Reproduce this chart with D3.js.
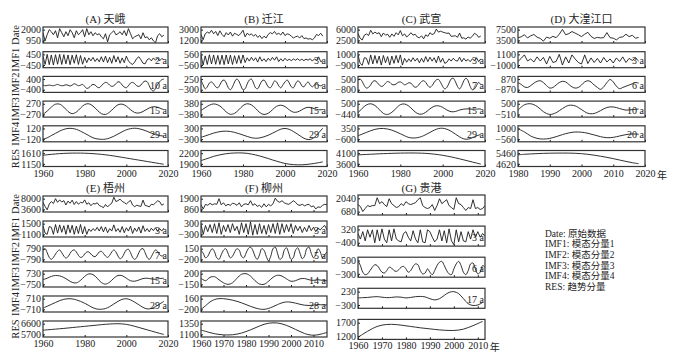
<!DOCTYPE html>
<html>
<head>
<meta charset="utf-8">
<script src="https://cdn.jsdelivr.net/npm/d3@7"></script>
<style>
  body { margin: 0; background: #fff; }
</style>
</head>
<body>
<script>
// ---- data ----
// (A) 天峨 1960-2018
var aDate = [1700,900,1500,2000,1800,1500,1900,1200,2100,1700,1300,1800,1400,2000,1700,1200,1900,1500,1700,2000,1300,2100,1500,1800,1400,1700,1500,1600,1300,1100,1600,800,1500,1700,1900,1500,1600,1800,1500,1900,1400,2100,1600,1100,1300,1400,1500,1100,1700,1200,1300,1000,1200,900,700,1400,1600,1300,1450];
var aImf1 = [300,-400,450,-420,400,-450,420,-380,450,-400,430,-350,400,-420,380,-300,420,-400,350,-380,200,-250,150,-100,200,-150,100,-180,250,-200,300,-250,200,-300,350,-200,250,-300,150,-250,300,-100,-300,-400,-200,100,250,0,-300,-350,0,100,-100,150,-50,150,-100,100,0];
var aImf2 = [-50,-100,-80,-50,-80,-100,-50,0,-60,-100,-80,-30,-60,-120,-50,50,-20,-100,-60,0,-150,-300,-250,-100,0,-50,-200,-250,-100,50,150,100,-50,-150,-100,50,200,150,-50,-200,-250,-100,100,150,50,-100,-150,-50,150,250,200,-100,-400,-500,-300,0,200,350,400];
var aImf3 = [-270,-100,100,250,250,100,-120,-230,-150,50,230,270,150,-50,-230,-270,-150,50,220,250,150,-30,-170,-200,-120,0,100,120,50,-30];
var aImf4 = [-120,-90,-40,10,60,100,120,120,100,60,10,-40,-90,-115,-125,-120,-95,-55,-5,45,90,115,125,115,90,55,15,-20,-40,-50];
var aRes = [1520,1540,1560,1575,1590,1600,1608,1612,1614,1612,1608,1600,1590,1575,1560,1540,1515,1490,1460,1430,1400,1370,1340,1310,1280,1250,1220,1190,1160,1130];
var aTicks = [[2000,950],[450,-450],[400,-400],[270,-270],[120,-120],[1610,1150]];
var aPeriods = [null,"2 a","10 a","15 a","29 a",null];

// (B) 迁江 1960-2018
var bDate = [2200,1300,2300,2600,2400,2900,2300,2700,2000,2800,2200,1800,2500,2100,2600,1900,2400,2200,2000,2400,2900,1800,2400,2100,2300,1900,2200,1700,2000,1500,1900,1600,2200,2500,2300,2700,2200,2400,2100,2600,2000,2300,2200,1900,1600,1800,1900,1600,2000,1500,1600,1400,1500,1300,1600,2200,2000,2400,1900];
var bImf1 = [500,-560,400,-500,520,-450,500,-480,450,-500,480,-520,500,-450,480,-500,420,-400,450,-380,500,-300,200,-150,250,-100,200,-250,300,-150,100,-200,150,-100,250,-50,300,-200,100,-150,150,-100,50,-100,80,-50,100,-80,50,-100,60,-50,100,-150,80,-60,300,-200,-100];
var bImf2 = [200,-50,-250,-150,50,100,0,-150,-200,-50,150,200,50,-200,-300,-150,100,250,150,-100,-300,-250,0,200,250,50,-200,-250,-50,150,200,50,-150,-200,-50,150,100,-100,-200,-50,100,200,50,-150,-200,0,150,100,-100,-150,0,100,-50,-150,-50,50,-50,-100,-50];
var bImf3 = [-100,100,280,370,300,100,-200,-370,-300,-50,250,380,300,50,-250,-380,-300,-50,200,280,180,-50,-220,-200,-50,100,120,30,-50,-30];
var bImf4 = [-200,-120,-40,40,100,140,150,130,80,10,-70,-150,-220,-250,-230,-170,-80,30,150,260,300,250,130,-20,-180,-300,-320,-200,50,320];
var bRes = [1990,2030,2070,2110,2140,2165,2185,2198,2205,2208,2205,2195,2175,2150,2120,2085,2050,2010,1975,1940,1910,1890,1878,1872,1873,1880,1895,1912,1932,1955];
var bTicks = [[3000,1200],[560,-560],[250,-300],[380,-380],[300,-300],[2200,1900]];
var bPeriods = [null,"3 a","6 a","15 a","29 a",null];

// (C) 武宣 1960-2018
var cDate = [4800,3200,2600,4200,4600,4100,5800,4600,5200,4700,5000,3700,4900,4200,4500,3500,4600,3800,5000,4300,5700,4000,4600,3600,4200,5000,4200,4500,3600,3300,4000,3000,4300,3800,5000,4400,4700,6200,5200,5500,5200,5000,4800,4900,3800,3900,4000,3500,4900,3200,3300,2900,3600,3200,3800,4800,4400,3500,3900];
var cImf1 = [900,-600,-950,400,300,-800,900,-700,800,-600,700,-900,800,-500,600,-900,700,-600,800,-500,900,-900,300,-400,200,-300,400,-200,300,-500,300,-400,600,-300,500,-200,400,-500,700,-400,300,-600,-400,200,-200,300,-100,-200,500,-300,300,-200,100,-300,200,-100,400,-300,200];
var cImf2 = [400,500,200,-300,-600,-500,-200,200,300,100,-200,-400,-300,0,200,100,-150,-200,-100,100,150,0,-200,-100,50,0,-300,-500,-400,-100,200,300,100,-300,-500,-300,100,400,450,100,-400,-700,-500,0,500,600,200,-400,-700,-300,300,600,300,-400,-800,-700,-300,100,-200];
var cImf3 = [-300,100,400,500,350,0,-350,-440,-250,100,420,480,300,-50,-350,-420,-250,50,280,320,180,-50,-200,-180,-50,30,50,20,30,50];
var cImf4 = [-300,-150,0,150,270,340,350,300,200,50,-120,-300,-450,-500,-470,-370,-200,0,200,340,370,280,100,-150,-400,-580,-600,-480,-300,-200];
var cRes = [4020,4030,4040,4050,4060,4070,4078,4085,4092,4098,4103,4106,4108,4108,4105,4100,4090,4075,4055,4030,4000,3965,3925,3880,3835,3785,3735,3685,3635,3590];
var cTicks = [[6000,2500],[1000,-900],[500,-800],[500,-440],[350,-600],[4100,3600]];
var cPeriods = [null,"3 a","7 a","15 a","29 a",null];

// (D) 大湟江口 1980-2018
var dDate = [4500,4800,5600,4400,5200,5700,4700,4200,3200,4700,4300,5000,4500,5800,7600,5600,6000,6800,6200,5600,4900,5800,6500,5000,4200,4600,4400,4500,6400,4500,4300,3700,4600,4800,5800,4900,5400,4300,4600];
var dImf1 = [-300,300,1000,-200,200,-400,600,-200,500,-800,700,-500,-300,1100,-1000,600,-600,1000,200,-500,-800,1000,-700,400,-500,300,-600,500,-400,200,-600,400,-300,600,-500,300,-100,400,-200];
var dImf2 = [300,0,-400,-500,-200,200,500,600,300,-200,-600,-500,-100,300,500,400,0,-400,-600,-500,-100,400,600,400,-100,-500,-800,-400,300,800,400,-300,-700,-500,-300,-100,100,300,200];
var dImf3 = [-100,400,500,250,-250,-510,-350,50,350,300,-50,-400,-420,-150,150,200,50,-100,-50,0];
var dImf4 = [950,500,-100,-450,-550,-450,-200,100,350,480,450,300,50,-200,-350,-300,-100,100,200,150];
var dRes = [5330,5370,5400,5425,5445,5458,5465,5468,5465,5450,5420,5370,5300,5220,5130,5030,4920,4810,4710,4630];
var dTicks = [[7500,3500],[1100,-1000],[870,-870],[500,-510],[1000,-560],[5460,4620]];
var dPeriods = [null,"3 a","6 a","10 a","20 a",null];

// (E) 梧州 1960-2018
var eDate = [6500,4800,3400,5800,6800,6000,8000,6500,7500,6600,7200,5400,7000,6100,7400,5600,6800,5700,6500,6200,7500,5700,6300,5100,6000,5800,6300,5200,4800,4300,5600,4600,5500,6100,8600,6800,7200,7800,6900,6400,5800,6600,7300,5400,4700,5300,5000,4800,7400,5200,5000,4600,5700,5500,6300,7100,6800,5300,5800];
var eImf1 = [1000,-800,-1100,800,600,-1100,1300,-800,1200,-600,1000,-1100,1200,-700,1100,-1100,900,-900,1300,-1000,800,-1100,200,-400,300,-200,600,-300,800,-500,700,-700,300,-300,1200,-400,300,-600,800,-700,500,-300,900,-900,400,-400,700,-800,1000,-400,300,-500,400,-200,500,-400,300,-300,400];
var eImf2 = [500,800,200,-500,-790,-500,0,400,600,200,-300,-600,-400,100,500,600,300,-200,-500,-400,0,300,300,0,-300,-400,-100,300,400,100,-300,-500,-200,300,600,300,-300,-700,-500,100,600,700,200,-500,-800,-500,200,700,800,200,-500,-800,-400,200,600,400,-100,-300,-200];
var eImf3 = [-100,100,350,480,420,200,-150,-480,-550,-200,350,700,600,100,-500,-720,-450,100,480,450,100,-250,-320,-150,50,100,0,-50,50,100];
var eImf4 = [-550,-300,-50,200,450,620,700,680,550,350,100,-200,-500,-680,-700,-600,-350,0,350,620,700,550,250,-100,-450,-650,-600,-350,0,350];
var eRes = [6050,6080,6110,6140,6170,6200,6235,6270,6305,6340,6375,6410,6445,6480,6515,6545,6570,6590,6595,6580,6540,6470,6380,6280,6180,6080,5980,5880,5780,5690];
var eTicks = [[8000,3600],[1500,-1100],[790,-790],[730,-750],[710,-710],[6600,5700]];
var ePeriods = [null,"3 a","7 a","15 a","29 a",null];

// (F) 柳州 1960-2016
var fDate = [1300,900,1350,1250,1450,1300,1400,1350,1900,1300,1500,1200,1350,1250,1450,1400,1250,1500,1100,1350,1400,1300,1700,1250,1400,1150,1250,1050,1400,1100,1350,1200,1400,1950,1650,1550,1700,1500,1400,1350,1500,1700,1550,1300,1250,1350,1200,1300,1350,1100,1200,900,1100,1050,1250,1350,1300];
var fImf1 = [250,-300,200,-150,250,-200,300,-250,350,-300,200,-150,250,-200,300,-100,150,-300,350,-200,300,-300,400,-350,250,-300,300,-250,200,-300,250,-200,300,-250,350,-300,300,-200,250,-150,300,-250,200,-100,150,-200,100,-150,200,-100,100,-150,50,-50,100,200,-50];
var fImf2 = [100,0,-150,-100,50,150,50,-150,-200,-50,100,150,0,-150,-100,50,150,100,-100,-150,0,150,200,100,-100,-200,-50,150,100,-100,-250,-100,150,200,0,-200,-150,100,180,0,-200,-150,100,180,0,-180,-100,150,200,0,-150,-50,150,50,-150,-50,50];
var fImf3 = [50,-30,80,100,0,-100,-150,-100,50,180,200,120,-30,-140,-150,-50,80,150,120,30,-50,-30,30,40,0,-20,0,-20,-30];
var fImf4 = [-200,-80,50,130,160,160,140,110,70,20,-40,-100,-150,-190,-200,-170,-110,-40,20,50,40,10,-30,-60,-70,-60,-40,-50,-50];
var fRes = [1200,1170,1140,1115,1098,1088,1085,1090,1105,1130,1165,1205,1250,1295,1335,1360,1370,1365,1345,1310,1265,1215,1165,1120,1090,1080,1090,1115,1145];
var fTicks = [[1900,860],[300,-300],[150,-200],[200,-150],[160,-200],[1350,1100]];
var fPeriods = [null,"3 a","5 a","14 a","28 a",null];

// (G) 贵港 1960-2013 (no IMF4)
var gDate = [1400,1200,700,1000,1300,1200,1300,1300,2100,1500,1700,1400,1200,2000,1500,1300,1100,1200,1500,1300,1700,1500,1400,1500,1600,1900,2100,1300,1100,1000,1100,1400,800,1300,2000,1500,1700,1900,1300,1100,900,2100,1500,1400,1100,800,1100,1000,1900,1000,1100,900,1000,1300];
var gImf1 = [100,-200,200,-300,300,-100,300,-400,300,-300,350,-200,-400,300,-300,350,-200,-300,-350,100,200,-100,-300,250,-200,-400,300,-350,-400,300,200,-100,-350,-200,300,-300,250,-400,350,-300,-500,300,-350,200,-300,-350,200,-200,300,-100,200,-100,100,-50];
var gImf2 = [500,200,-200,-350,-300,-100,100,250,200,0,-200,-250,-100,100,50,-100,-150,-50,100,150,0,-200,-100,150,300,250,-100,-300,-250,0,-200,-350,-100,200,400,450,200,-100,-300,-350,0,300,450,200,-200,-350,-100,300,350,0,-300,-200,200,100];
var gImf3 = [-20,-10,0,20,30,10,-10,0,20,10,-20,0,30,40,20,-50,-100,-50,80,200,230,150,-50,-250,-320,-300,-200];
var gRes = [1150,1270,1380,1480,1560,1610,1635,1640,1630,1610,1585,1560,1535,1510,1490,1470,1450,1432,1418,1410,1410,1425,1460,1520,1590,1670,1750];
var gTicks = [[2040,680],[320,-400],[500,-300],[230,-300],[1700,1200]];
var gPeriods = [null,"3 a","6 a","17 a",null];

var rowNames6 = ["Date","IMF1","IMF2","IMF3","IMF4","RES"];
var legendItems = ["Date: 原始数据","IMF1: 模态分量1","IMF2: 模态分量2","IMF3: 模态分量3","IMF4: 模态分量4","RES: 趋势分量"];

// ---- panel table built from the arrays ----
var panels = [
  {title:"(A) 天峨", start:1960, domain:[1960,2020], xt:[1960,1980,2000,2020], series:[aDate,aImf1,aImf2,aImf3,aImf4,aRes], ticks:aTicks, periods:aPeriods},
  {title:"(B) 迁江", start:1960, domain:[1960,2020], xt:[1960,1980,2000,2020], series:[bDate,bImf1,bImf2,bImf3,bImf4,bRes], ticks:bTicks, periods:bPeriods},
  {title:"(C) 武宣", start:1960, domain:[1960,2020], xt:[1960,1980,2000,2020], series:[cDate,cImf1,cImf2,cImf3,cImf4,cRes], ticks:cTicks, periods:cPeriods},
  {title:"(D) 大湟江口", start:1980, domain:[1980,2020], xt:[1980,1990,2000,2010,2020], series:[dDate,dImf1,dImf2,dImf3,dImf4,dRes], ticks:dTicks, periods:dPeriods, unit:true},
  {title:"(E) 梧州", start:1960, domain:[1960,2020], xt:[1960,1980,2000,2020], series:[eDate,eImf1,eImf2,eImf3,eImf4,eRes], ticks:eTicks, periods:ePeriods},
  {title:"(F) 柳州", start:1960, domain:[1960,2016], xt:[1960,1970,1980,1990,2000,2010], series:[fDate,fImf1,fImf2,fImf3,fImf4,fRes], ticks:fTicks, periods:fPeriods},
  {title:"(G) 贵港", start:1960, domain:[1960,2013], xt:[1960,1970,1980,1990,2000,2010], series:[gDate,gImf1,gImf2,gImf3,gRes], ticks:gTicks, periods:gPeriods, unit:true}
];

// layout of each panel (px)
var layout = [
  {left:43,  width:125, top:27,  step:24.7, h:16, titleY:23,  rowLabels:true},
  {left:201, width:126, top:27,  step:24.7, h:16, titleY:23},
  {left:358, width:127, top:27,  step:24.7, h:16, titleY:23},
  {left:518, width:127, top:27,  step:24.7, h:16, titleY:23},
  {left:43,  width:125, top:196, step:25,   h:16, titleY:192, rowLabels:true},
  {left:201, width:126, top:196, step:25,   h:16, titleY:192},
  {left:358, width:127, top:195, step:31.1, h:20, titleY:192}
];

var fontFam = "'Liberation Serif','Times New Roman','Noto Sans CJK SC',serif";

var svg = d3.select("body")
    .append("svg")
    .attr("width", 674)
    .attr("height", 362)
    .style("font-family", fontFam);

var fmt = d3.format("d");

panels.forEach(function(p, pi) {
  var L = layout[pi];
  var x = d3.scaleLinear().domain(p.domain).range([L.left, L.left + L.width]);
  var n = p.series.length;

  // title
  svg.append("text")
      .attr("x", L.left + L.width / 2)
      .attr("y", L.titleY)
      .attr("text-anchor", "middle")
      .attr("font-size", 11)
      .attr("fill", "#222")
      .text(p.title);

  p.series.forEach(function(vals, ri) {
    var top = L.top + ri * L.step;
    var bot = top + L.h;
    var hi = p.ticks[ri][0], lo = p.ticks[ri][1];
    var pad = (hi - lo) * 0.25;
    var y = d3.scaleLinear().domain([lo - pad, hi + pad]).range([bot, top]);
    // first three rows yearly, smooth components every 2 years
    var step = ri < 3 ? 1 : 2;

    var clipId = "clip" + pi + "_" + ri;
    svg.append("clipPath").attr("id", clipId)
      .append("rect")
        .attr("x", L.left).attr("y", top)
        .attr("width", L.width).attr("height", L.h);

    var line = d3.line()
        .x(function(d, i) { return x(p.start + i * step); })
        .y(function(d) { return y(d); })
        .curve(ri < 2 ? d3.curveLinear : d3.curveCatmullRom);

    svg.append("path")
        .datum(vals)
        .attr("clip-path", "url(#" + clipId + ")")
        .attr("d", line)
        .style("fill", "none")
        .style("stroke", "#1a1a1a")
        .style("stroke-width", 0.9);

    // period annotation
    if (p.periods[ri]) {
      svg.append("text")
          .attr("x", L.left + L.width - 1)
          .attr("y", top + L.h / 2 + 4.5)
          .attr("text-anchor", "end")
          .attr("font-size", 10)
          .attr("fill", "#1a1a1a")
          .text(p.periods[ri]);
    }

    // y axis with two tick labels, ticks pointing inward
    var ay = svg.append("g")
        .attr("transform", "translate(" + L.left + ",0)")
        .call(d3.axisLeft(y).tickValues(p.ticks[ri]).tickSize(-2).tickPadding(2).tickFormat(fmt));
    ay.select(".domain").remove();
    ay.attr("font-family", null).attr("font-size", 10).style("color", "#1a1a1a");

    // x axis ticks on every box, labels only under the last row
    var last = ri === n - 1;
    var ax = svg.append("g")
        .attr("transform", "translate(0," + bot + ")")
        .call(d3.axisBottom(x).tickValues(p.xt).tickSize(-2).tickPadding(3)
              .tickFormat(last ? fmt : function() { return ""; }));
    ax.select(".domain").remove();
    ax.attr("font-family", null).attr("font-size", 10).style("color", "#1a1a1a");

    if (last && p.unit) {
      var lastTick = p.xt[p.xt.length - 1];
      svg.append("text")
          .attr("x", x(lastTick) + 12)
          .attr("y", bot + 12)
          .attr("font-size", 10)
          .attr("fill", "#1a1a1a")
          .text("年");
    }

    // frame
    svg.append("rect")
        .attr("x", L.left).attr("y", top)
        .attr("width", L.width).attr("height", L.h)
        .style("fill", "none")
        .style("stroke", "#333")
        .style("stroke-width", 1.2);

    // row label on the leftmost panels
    if (L.rowLabels) {
      svg.append("text")
          .attr("transform", "translate(19," + (top + L.h / 2) + ")rotate(-90)")
          .attr("text-anchor", "middle")
          .attr("font-size", 10.5)
          .attr("fill", "#222")
          .text(rowNames6[ri]);
    }
  });
});

// legend
svg.append("g")
  .selectAll("text")
  .data(legendItems)
  .enter()
  .append("text")
    .attr("x", 545)
    .attr("y", function(d, i) { return 236.5 + i * 10.7; })
    .attr("font-size", 9.5)
    .attr("fill", "#222")
    .text(function(d) { return d; });
</script>
</body>
</html>
